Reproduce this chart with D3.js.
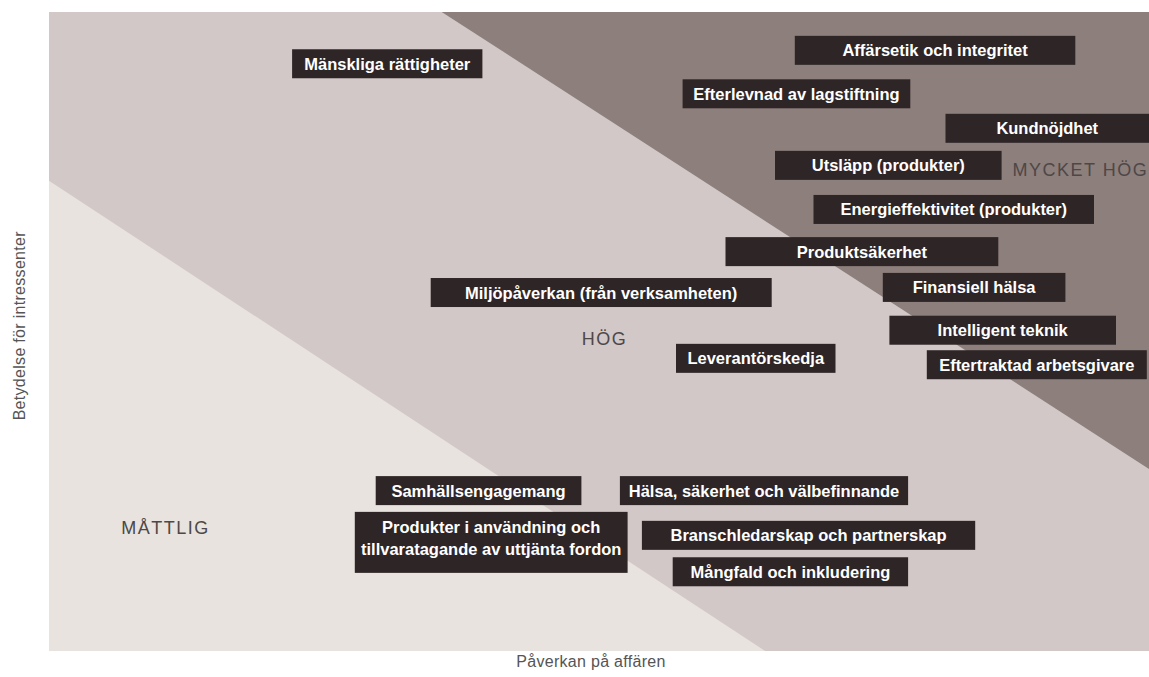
<!DOCTYPE html>
<html lang="sv">
<head>
<meta charset="UTF-8">
<title>Väsentlighetsanalys</title>
<script src="https://cdn.jsdelivr.net/npm/d3@7/dist/d3.min.js"></script>
<style>
  * { margin: 0; padding: 0; box-sizing: border-box; }
  body { background: #fff; width: 1149px; height: 677px; overflow: hidden; }
  svg { display: block; font-family: 'Liberation Sans', Arial, sans-serif; }
  .topic text { fill: #fff; font-weight: bold; font-size: 16.5px; }
  .zone-label { fill: #4e4747; font-size: 18px; letter-spacing: 1.5px; }
  .axis-label { fill: #555; font-size: 16px; letter-spacing: 0.3px; }
</style>
</head>
<body>
<svg id="chart" width="1149" height="677"></svg>
<script>
// ─── Data (x = påverkan på affären, y = betydelse för intressenter, 0–100) ───

const topics = [
  'Mänskliga rättigheter',
  'Affärsetik och integritet',
  'Efterlevnad av lagstiftning',
  'Kundnöjdhet',
  'Utsläpp (produkter)',
  'Energieffektivitet (produkter)',
  'Produktsäkerhet',
  'Miljöpåverkan (från verksamheten)',
  'Finansiell hälsa',
  'Intelligent teknik',
  'Leverantörskedja',
  'Eftertraktad arbetsgivare',
  'Samhällsengagemang',
  'Hälsa, säkerhet och välbefinnande',
  'Produkter i användning och\ntillvaratagande av uttjänta fordon',
  'Branschledarskap och partnerskap',
  'Mångfald och inkludering'
];

// each label spans an interval on the impact axis
const impactFrom  = [22.1, 67.8, 57.6, 81.5, 66.0, 69.5, 61.5, 34.7, 75.8, 76.4, 57.0, 79.8, 29.7, 51.9, 27.8, 53.9, 56.7];
const impactTo    = [39.4, 93.3, 78.3, 100.0, 86.6, 95.0, 86.3, 65.7, 92.4, 97.0, 71.5, 99.8, 48.4, 78.1, 52.6, 84.2, 78.1];
const stakeholder = [91.9, 94.0, 87.2, 81.8, 76.0, 69.1, 62.5, 56.1, 56.9, 50.2, 45.8, 44.8, 25.1, 25.1, 17.0, 18.1, 12.4];

// zones: boundary lines between MÅTTLIG / HÖG / MYCKET HÖG
const zoneNames   = ['MÅTTLIG', 'HÖG', 'MYCKET HÖG'];
const zoneLabelX  = [10.6, 50.5, 87.6];
const zoneLabelY  = [18.3, 47.9, 74.3];
const lowEdge     = [[0, 73.6], [65.1, 0]];
const highEdge    = [[35.7, 100], [100, 28.5]];

const xTitle = 'Påverkan på affären';
const yTitle = 'Betydelse för intressenter';

// ─── Layout ─────────────────────────────────────────────────────────────────

const W = 1149, H = 677;
const plot = { left: 49, right: 1149, top: 12, bottom: 651 };
const BOX_H = 29, LINE_STEP = 32, LINE_H = 22, TEXT_DY = 6;

const x = d3.scaleLinear().domain([0, 100]).range([plot.left, plot.right]);
const y = d3.scaleLinear().domain([0, 100]).range([plot.bottom, plot.top]);

const svg = d3.select('#chart');
const line = d3.line().x(d => x(d[0])).y(d => y(d[1]));

// background zones
const zones = [
  { pts: [[0, 0], [0, 100], [100, 100], [100, 0]], fill: '#d2c8c7' },
  { pts: [[0, 0], lowEdge[0], lowEdge[1]], fill: '#e8e3de' },
  { pts: [highEdge[0], [100, 100], highEdge[1]], fill: '#8d7f7b' }
];

svg.append('g').selectAll('path')
  .data(zones)
  .join('path')
  .attr('d', d => line(d.pts) + 'Z')
  .attr('fill', d => d.fill);

svg.append('g').selectAll('text')
  .data(zoneNames)
  .join('text')
  .attr('class', 'zone-label')
  .attr('x', (d, i) => x(zoneLabelX[i]))
  .attr('y', (d, i) => y(zoneLabelY[i]))
  .attr('text-anchor', (d, i) => i === 2 ? 'start' : 'middle')
  .text(d => d);

// topic boxes
const items = topics.map((t, i) => ({
  lines: t.split('\n'),
  x0: impactFrom[i], x1: impactTo[i], y: stakeholder[i]
}));

const topic = svg.append('g').selectAll('g')
  .data(items)
  .join('g')
  .attr('class', 'topic');

topic.append('rect')
  .attr('x', d => x(d.x0))
  .attr('width', d => x(d.x1) - x(d.x0))
  .attr('y', d => y(d.y) - (BOX_H + LINE_STEP * (d.lines.length - 1)) / 2)
  .attr('height', d => BOX_H + LINE_STEP * (d.lines.length - 1))
  .attr('fill', '#2e2527');

topic.append('text')
  .attr('text-anchor', 'middle')
  .each(function(d) {
    const cx = (x(d.x0) + x(d.x1)) / 2;
    const extra = d.lines.length - 1;
    const first = y(d.y) - extra * LINE_H / 2 + TEXT_DY - extra * 4;
    d3.select(this).selectAll('tspan')
      .data(d.lines)
      .join('tspan')
      .attr('x', cx)
      .attr('y', (l, j) => first + j * LINE_H)
      .text(l => l);
  });

// axis titles
svg.append('text')
  .attr('class', 'axis-label')
  .attr('x', 591)
  .attr('y', 667)
  .attr('text-anchor', 'middle')
  .text(xTitle);

svg.append('text')
  .attr('class', 'axis-label')
  .attr('transform', `translate(25, ${y(50.9)}) rotate(-90)`)
  .attr('text-anchor', 'middle')
  .text(yTitle);
</script>
</body>
</html>
